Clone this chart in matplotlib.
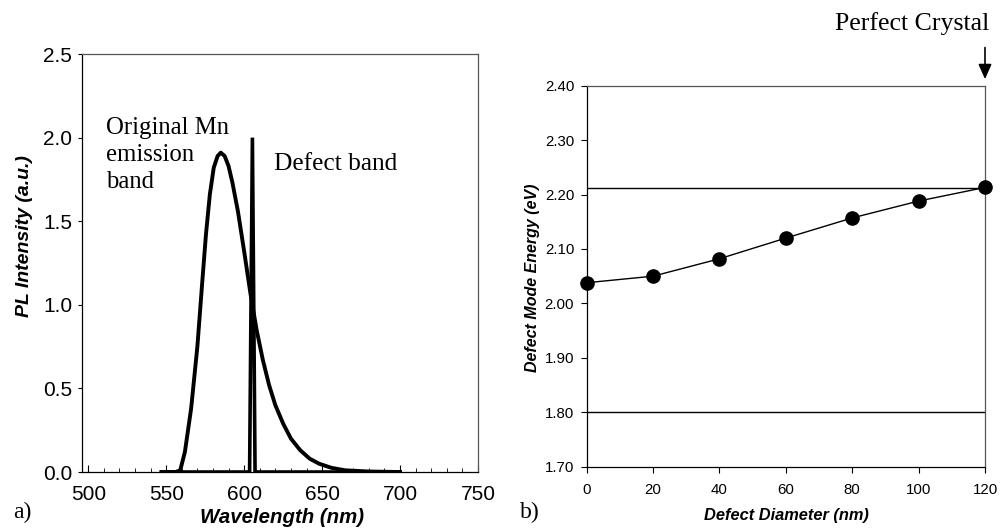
import matplotlib
matplotlib.use("Agg")
import matplotlib.pyplot as plt
from matplotlib.ticker import MultipleLocator, FormatStrFormatter

# ---- data: panel a ----
mn_wl = [547, 556, 559, 562, 566, 570, 573, 575.5, 578, 580.5, 583, 585, 587.5, 590,
         592.5, 596, 600, 604, 608, 612, 616, 620, 625, 630, 636, 642, 648, 656, 665,
         680, 700]
mn_int = [0, 0, 0.01, 0.12, 0.38, 0.75, 1.12, 1.42, 1.66, 1.82, 1.89, 1.91, 1.89, 1.83,
          1.73, 1.56, 1.32, 1.07, 0.85, 0.67, 0.52, 0.40, 0.29, 0.20, 0.13, 0.08, 0.05,
          0.025, 0.01, 0.003, 0]
defect_wl = [547, 603.5, 605.3, 607, 700]
defect_int = [0, 0, 2.0, 0, 0]
a_xticks = [500, 550, 600, 650, 700, 750]
a_yticks = [0.0, 0.5, 1.0, 1.5, 2.0, 2.5]

# ---- data: panel b ----
diameter = [0, 20, 40, 60, 80, 100, 120]
energy = [2.038, 2.05, 2.082, 2.12, 2.157, 2.188, 2.213]
perfect_level = 2.212
lower_level = 1.80
b_xticks = [0, 20, 40, 60, 80, 100, 120]
b_yticks = [1.70, 1.80, 1.90, 2.00, 2.10, 2.20, 2.30, 2.40]

SANS = "Liberation Sans"
SERIF = "Liberation Serif"

fig = plt.figure(figsize=(10, 5.3), dpi=100)

# ---------- panel a ----------
axa = fig.add_axes([0.082, 0.1094, 0.396, 0.7887])
axa.plot(mn_wl, mn_int, color="black", lw=2.8, solid_joinstyle="round")
axa.plot(defect_wl, defect_int, color="black", lw=2.6, solid_joinstyle="miter")
axa.set_xlim(496, 750)
axa.set_ylim(0, 2.5)
axa.set_xticks(a_xticks)
axa.set_yticks(a_yticks)
axa.yaxis.set_major_formatter(FormatStrFormatter("%.1f"))
axa.xaxis.set_minor_locator(MultipleLocator(10))
axa.tick_params(axis="x", which="major", direction="in", length=5, width=0.8, pad=9,
                labelsize=15)
axa.tick_params(axis="x", which="minor", direction="in", length=3, width=0.6)
axa.tick_params(axis="y", which="major", direction="out", length=3, width=0.8, pad=4,
                labelsize=15)
for lab in axa.get_xticklabels() + axa.get_yticklabels():
    lab.set_fontfamily(SANS)
for side, sp in axa.spines.items():
    sp.set_linewidth(0.9)
    sp.set_color("black" if side in ("left", "bottom") else "#555555")

axa.text(511.4, 2.125, "Original Mn\nemission\nband", fontsize=17.8, family=SERIF,
         ha="left", va="top", linespacing=1.3)
axa.text(619, 1.84, "Defect band", fontsize=18.3, family=SERIF, ha="left", va="center")

fig.text(0.025, 0.555, "PL Intensity (a.u.)", rotation=90, ha="center", va="center",
         fontsize=14, fontweight="bold", fontstyle="italic", family=SANS)
fig.text(0.282, 0.024, "Wavelength (nm)", ha="center", va="center",
         fontsize=14.7, fontweight="bold", fontstyle="italic", family=SANS)
fig.text(0.022, 0.034, "a)", ha="center", va="center", fontsize=17, family=SERIF)

# ---------- panel b ----------
axb = fig.add_axes([0.5867, 0.1194, 0.3983, 0.719])
axb.axhline(perfect_level, color="black", lw=1.0)
axb.axhline(lower_level, color="black", lw=1.0)
axb.plot(diameter, energy, color="black", lw=1.0, marker="o", markersize=9.5,
         clip_on=False, zorder=5)
axb.set_xlim(0, 120)
axb.set_ylim(1.70, 2.40)
axb.set_xticks(b_xticks)
axb.set_yticks(b_yticks)
axb.yaxis.set_major_formatter(FormatStrFormatter("%.2f"))
axb.tick_params(axis="x", direction="out", length=4, width=0.8, pad=8, labelsize=10.8)
axb.tick_params(axis="y", direction="out", length=4, width=0.8, pad=5, labelsize=10.8)
for lab in axb.get_xticklabels() + axb.get_yticklabels():
    lab.set_fontfamily(SANS)
for side, sp in axb.spines.items():
    sp.set_linewidth(0.9)
    sp.set_color("black" if side in ("left", "bottom") else "#555555")

axb.annotate("", xy=(120, 2.412), xytext=(120, 2.47), xycoords="data",
             textcoords="data", annotation_clip=False,
             arrowprops=dict(arrowstyle="-|>,head_length=0.9,head_width=0.4",
                             color="black", lw=1.2, shrinkA=0, shrinkB=0))
fig.text(0.9125, 0.956, "Perfect Crystal", ha="center", va="center", fontsize=18.6,
         family=SERIF)

fig.text(0.532, 0.4755, "Defect Mode Energy (eV)", rotation=90, ha="center",
         va="center", fontsize=11.5, fontweight="bold", fontstyle="italic", family=SANS)
fig.text(0.786, 0.028, "Defect Diameter (nm)", ha="center", va="center",
         fontsize=11.8, fontweight="bold", fontstyle="italic", family=SANS)
fig.text(0.530, 0.034, "b)", ha="center", va="center", fontsize=17, family=SERIF)

fig.savefig("out.png", dpi=100, facecolor="white")
